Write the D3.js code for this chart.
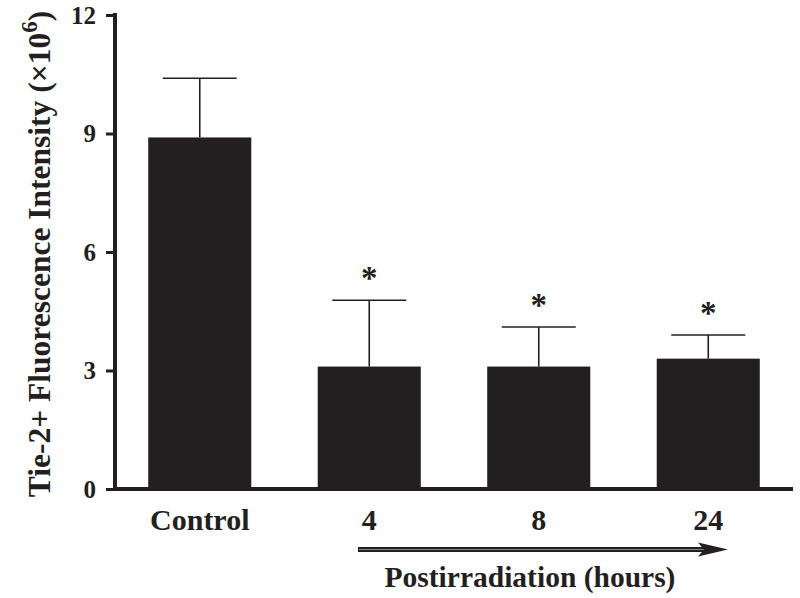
<!DOCTYPE html>
<html>
<head>
<meta charset="utf-8">
<script src="https://cdn.jsdelivr.net/npm/d3@7"></script>
<style>
  html, body { margin: 0; padding: 0; background: #fff; }
  svg { display: block; }
  text { font-family: "Liberation Serif", "Times New Roman", serif; font-weight: bold; fill: #231f20; }
</style>
</head>
<body>
<svg id="chart" width="800" height="598"></svg>
<script>
// ---- data ----
const categories = ["Control", "4", "8", "24"];
const means = [8.9, 3.1, 3.1, 3.3];
const errors = [1.5, 1.68, 1.0, 0.6];
const significant = [false, true, true, true];
const yTicks = [0, 3, 6, 9, 12];
const yTitle = "Tie-2+ Fluorescence Intensity (×10";
const ySup = "6";
const xTitle = "Postirradiation (hours)";

const ink = "#231f20";
const svg = d3.select("#chart");

const x = d3.scaleBand().domain(categories).range([115, 793]).paddingInner(0.392).paddingOuter(0.196);
const y = d3.scaleLinear().domain([0, 12]).range([489, 15]);

// bars
svg.append("g").selectAll("rect").data(categories).join("rect")
  .attr("x", d => x(d))
  .attr("y", (d, i) => y(means[i]))
  .attr("width", x.bandwidth())
  .attr("height", (d, i) => y(0) - y(means[i]))
  .attr("fill", ink);

// error bars
const eg = svg.append("g").attr("stroke", ink).attr("stroke-width", 1.6);
categories.forEach((c, i) => {
  const cx = x(c) + x.bandwidth() / 2;
  const top = y(means[i] + errors[i]);
  eg.append("line").attr("x1", cx).attr("x2", cx).attr("y1", y(means[i])).attr("y2", top);
  eg.append("line").attr("x1", cx - 37).attr("x2", cx + 37).attr("y1", top).attr("y2", top);
  if (significant[i]) {
    svg.append("text").attr("x", cx).attr("y", top - 11)
      .attr("text-anchor", "middle").attr("font-size", 33).text("*");
  }
});

// y axis
const yAxis = svg.append("g").attr("transform", "translate(115,0)")
  .call(d3.axisLeft(y).tickValues(yTicks).tickSize(9).tickSizeOuter(0).tickPadding(10));
yAxis.select(".domain").attr("stroke", ink).attr("stroke-width", 4).attr("d", "M0,13V491");
yAxis.selectAll(".tick line").attr("stroke", ink).attr("stroke-width", 3);
yAxis.selectAll(".tick text").attr("font-size", 25).attr("font-family", "Liberation Serif, serif").attr("font-weight", "bold").attr("fill", ink);

// x axis
const xAxis = svg.append("g").attr("transform", "translate(0,489)")
  .call(d3.axisBottom(x).tickSize(0).tickPadding(20));
xAxis.select(".domain").attr("stroke", ink).attr("stroke-width", 4).attr("d", "M113,0H793");
xAxis.selectAll(".tick text").attr("font-size", 30).attr("font-family", "Liberation Serif, serif").attr("font-weight", "bold").attr("fill", ink);

// y title
const yt = svg.append("text")
  .attr("transform", "translate(50,254) rotate(-90)")
  .attr("text-anchor", "middle")
  .attr("font-size", 31.5);
yt.append("tspan").text(yTitle);
yt.append("tspan").attr("dy", -13).attr("font-size", 23).text(ySup);
yt.append("tspan").attr("dy", 13).text(")");

// arrow
const ax0 = 358, ax1 = 728, ay = 549.5;
svg.append("line").attr("x1", ax0).attr("x2", ax1 - 20).attr("y1", ay).attr("y2", ay)
  .attr("stroke", ink).attr("stroke-width", 5);
svg.append("line").attr("x1", ax0 + 1).attr("x2", ax1 - 24).attr("y1", ay).attr("y2", ay)
  .attr("stroke", "#8a8888").attr("stroke-width", 1);
svg.append("path")
  .attr("d", `M${ax1},${ay} L${ax1 - 30},${ay - 7} L${ax1 - 24},${ay} L${ax1 - 30},${ay + 7} Z`)
  .attr("fill", ink);

// x title
svg.append("text").attr("x", 530).attr("y", 587).attr("text-anchor", "middle")
  .attr("font-size", 29.5).text(xTitle);
</script>
</body>
</html>
